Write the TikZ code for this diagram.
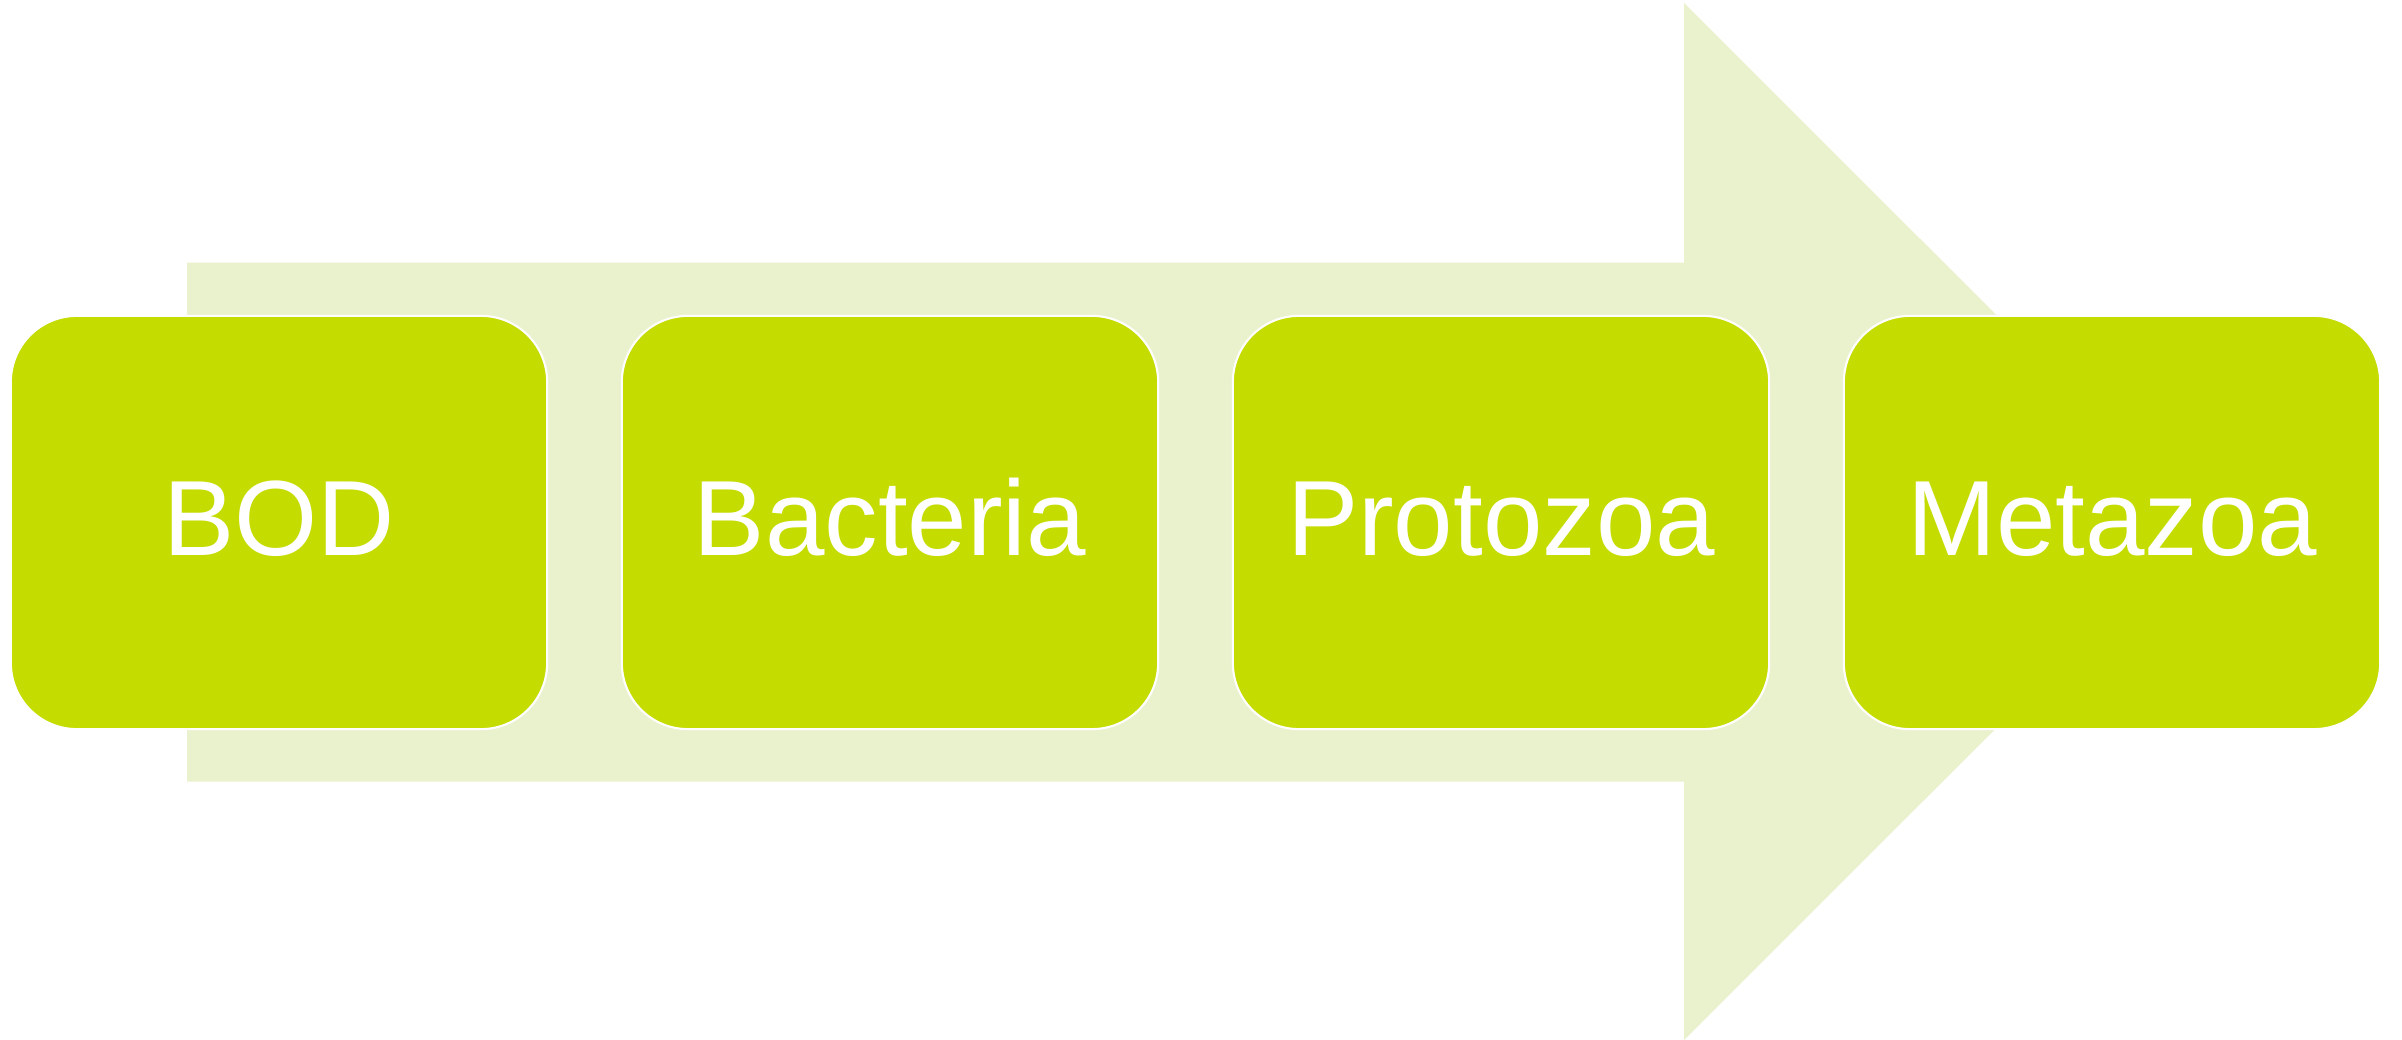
\documentclass[tikz,border=0pt]{standalone}
\usepackage{fontspec}
\setmainfont{Liberation Sans}
\definecolor{boxgreen}{RGB}{197,220,0}
\definecolor{arrowgreen}{RGB}{234,241,205}
\begin{document}
\begin{tikzpicture}[x=0.01cm,y=-0.01cm,
  stage/.style={draw=white,line width=0.6pt,fill=boxgreen,rounded corners=0.66cm,
    minimum width=5.36cm,minimum height=4.13cm,inner sep=0pt,
    text=white,text height=0.664cm,text depth=0pt,
    font=\fontsize{30.4}{36}\selectfont}]
\fill[white] (0,0) rectangle (2402,1040);
\useasboundingbox (0,0) rectangle (2402,1040);
\fill[arrowgreen] (187,262.7) -- (1684,262.7) -- (1684,3) -- (2203,521.5)
  -- (1684,1040) -- (1684,781.7) -- (187,781.7) -- cycle;
\node[stage] (bod) at (279,522.5) {BOD};
\node[stage] (bac) at (890,522.5) {Bacteria};
\node[stage] (pro) at (1501,522.5) {Protozoa};
\node[stage] (met) at (2112,522.5) {Metazoa};
\end{tikzpicture}
\end{document}
